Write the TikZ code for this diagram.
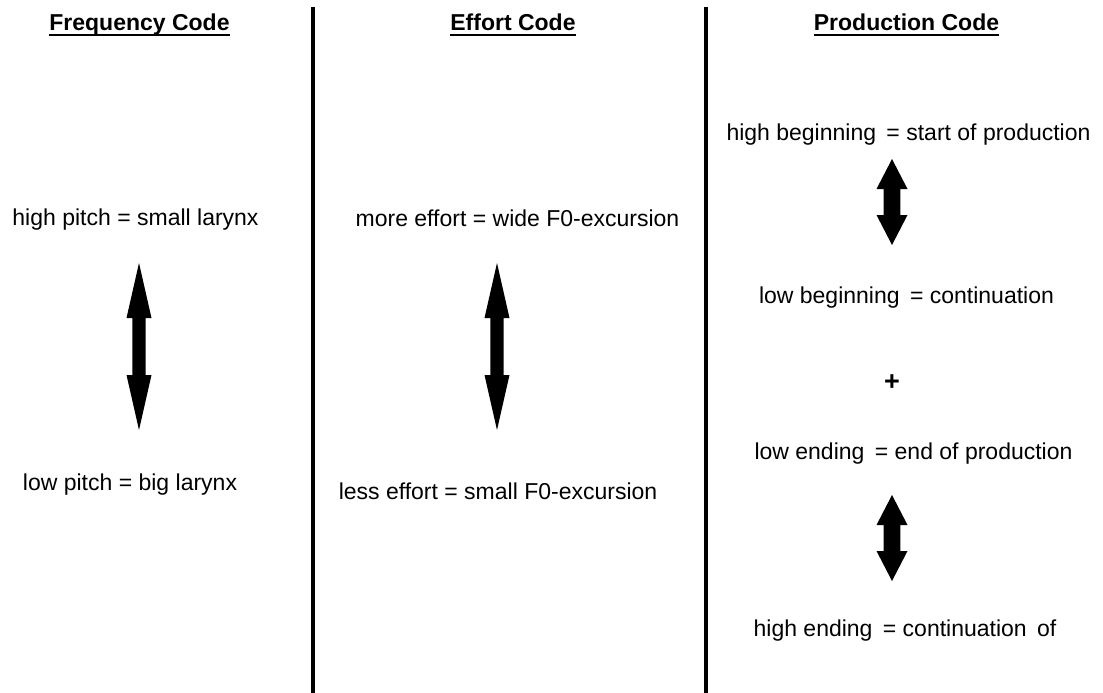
\documentclass[tikz,border=0pt]{standalone}
\usepackage{fontspec}
\setmainfont{Liberation Sans}
\newcommand\dblblockarrow[6]{%
  \fill[arrowfill] (#1,#2) -- (#1+#5,#2+#4) -- (#1+#6,#2+#4) -- (#1+#6,#3-#4)
    -- (#1+#5,#3-#4) -- (#1,#3) -- (#1-#5,#3-#4) -- (#1-#6,#3-#4)
    -- (#1-#6,#2+#4) -- (#1-#5,#2+#4) -- cycle;}
\begin{document}
\begin{tikzpicture}[x=1pt,y=-1pt,
  txt/.style={font=\fontsize{23}{27}\selectfont, inner sep=0pt, anchor=base},
  head/.style={font=\fontsize{23}{27}\selectfont\bfseries, inner sep=0pt, anchor=base},
  plussign/.style={font=\fontsize{27}{30}\selectfont\bfseries, inner sep=0pt, anchor=base},
  uline/.style={line width=2pt},
  divider/.style={line width=4pt},
  arrowfill/.style={fill=black}]
\useasboundingbox (0,0) rectangle (1103,693);

% dividers
\draw[divider] (312.5,7) -- (312.5,693);
\draw[divider] (706,7) -- (706,693);

% headers
\node[head] (fh) at (139.5,31) {Frequency Code};
\node[head] (eh) at (513,31) {Effort Code};
\node[head] (ph) at (906.5,31) {Production Code};
\foreach \n in {fh,eh,ph}
  \draw[uline] ([yshift=-4pt]\n.base west) -- ([yshift=-4pt]\n.base east);

% frequency code
\node[txt] (hp) at (135.5,225) {high pitch = small larynx};
\node[txt] (lp) at (130,490) {low pitch = big larynx};
\dblblockarrow{139}{263}{430}{55}{12.5}{6.7}

% effort code
\node[txt] (me) at (517.5,226) {more effort = wide F0-excursion};
\node[txt] (le) at (498,499) {less effort = small F0-excursion};
\dblblockarrow{497}{263}{430}{55}{12.5}{6.7}

% production code
\node[txt] (hb) at (908.5,140) {high beginning\hspace{4pt} = start of production};
\node[txt] (lb) at (906.5,303) {low beginning\hspace{4pt} = continuation};
\node[plussign] (pl) at (892,390) {+};
\node[txt] (le2) at (913.5,459) {low ending\hspace{4pt} = end of production};
\node[txt] (he) at (905,636) {high ending\hspace{4pt} = continuation\hspace{4pt} of};
\dblblockarrow{892}{159}{245}{30}{15.5}{8.3}
\dblblockarrow{892}{495}{581}{30}{15.5}{8.3}
\end{tikzpicture}
\end{document}
